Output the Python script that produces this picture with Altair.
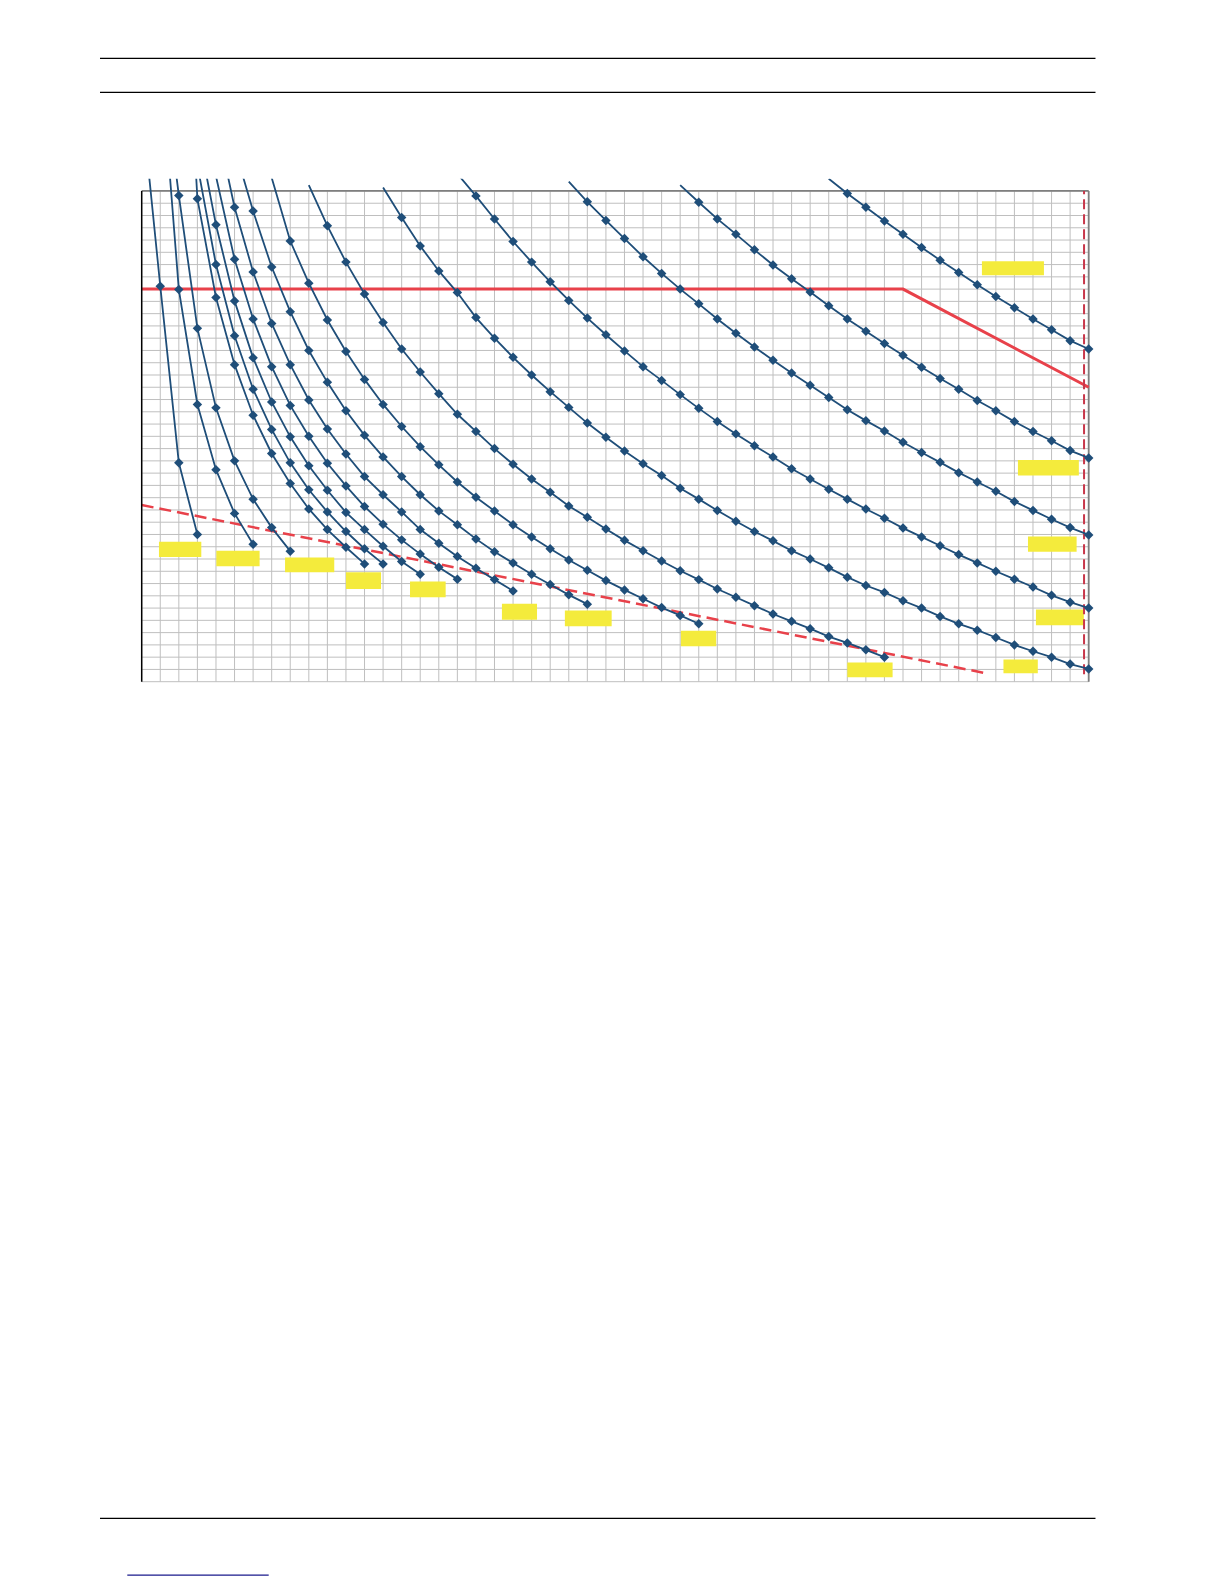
import altair as alt
import pandas as pd

# ---------------- data ----------------
# each curve: first integer x and the y values at consecutive integer x
curve_names = ["A", "B", "C", "D7", "D6", "D5", "D4", "D3", "D2", "D1",
               "G", "H", "I", "J", "K", "L"]
curve_start = [0, 1, 1, 2, 3, 3, 4, 4, 5, 7, 9, 13, 17, 23, 29, 37]

A = [11.8, 8.06, 4.46, 3.00]
B = [12.8, 7.99, 5.65, 4.32, 3.43, 2.80]
C = [12.9, 9.91, 7.20, 5.58, 4.50, 3.72, 3.14, 2.66]
D7 = [16.6, 9.84, 7.83, 6.46, 5.43, 4.65, 4.04, 3.52, 3.10, 2.74, 2.40]
D6 = [10.53, 8.50, 7.05, 5.96, 5.14, 4.46, 3.91, 3.46, 3.06, 2.71, 2.40]
D5 = [11.27, 9.31, 7.76, 6.60, 5.70, 4.99, 4.40, 3.90, 3.45, 3.10, 2.76, 2.45, 2.19]
D4 = [10.30, 8.61, 7.39, 6.42, 5.63, 5.00, 4.45, 3.99, 3.57, 3.21, 2.89, 2.60, 2.33, 2.09]
D3 = [11.43, 9.67, 8.35, 7.30, 6.46, 5.74, 5.15, 4.64, 4.18, 3.81, 3.46, 3.10, 2.82,
      2.55, 2.31, 2.08, 1.85]
D2 = [10.88, 9.59, 8.45, 7.54, 6.75, 6.10, 5.52, 5.02, 4.58, 4.18, 3.81, 3.48, 3.20,
      2.91, 2.65, 2.42, 2.19, 1.98, 1.77, 1.58]
D1 = [10.27, 8.98, 8.12, 7.37, 6.73, 6.16, 5.65, 5.20, 4.79, 4.42, 4.07, 3.76, 3.48,
      3.20, 2.95, 2.71, 2.48, 2.27, 2.06, 1.87, 1.69, 1.51, 1.35, 1.18]
G = [10.12, 9.29, 8.55, 7.90, 7.32, 6.78, 6.31, 5.87, 5.45, 5.10, 4.75, 4.43, 4.13,
     3.86, 3.58, 3.35, 3.11, 2.88, 2.67, 2.46, 2.26, 2.08, 1.89, 1.72, 1.55, 1.38,
     1.23, 1.08, 0.92, 0.79, 0.65, 0.50]
H = [10.07, 9.46, 8.88, 8.37, 7.93, 7.42, 7.00, 6.61, 6.25, 5.91, 5.59, 5.27, 4.98,
     4.70, 4.44, 4.20, 3.94, 3.72, 3.49, 3.27, 3.06, 2.87, 2.67, 2.50, 2.32, 2.13,
     1.96, 1.82, 1.65, 1.50, 1.33, 1.18, 1.05, 0.90, 0.75, 0.62, 0.50, 0.36, 0.26]
I = [10.35, 9.90, 9.43, 8.97, 8.55, 8.15, 7.77, 7.41, 7.07, 6.74, 6.42, 6.14, 5.85,
     5.57, 5.30, 5.05, 4.81, 4.58, 4.34, 4.13, 3.92, 3.72, 3.52, 3.33, 3.13, 2.95,
     2.77, 2.59, 2.42, 2.25, 2.09, 1.93, 1.76, 1.62, 1.50]
J = [10.19, 9.78, 9.40, 9.03, 8.66, 8.32, 8.00, 7.70, 7.39, 7.10, 6.82, 6.55, 6.29,
     6.04, 5.79, 5.54, 5.32, 5.11, 4.88, 4.67, 4.47, 4.26, 4.07, 3.88, 3.67, 3.49,
     3.31, 3.14, 2.99]
K = [10.12, 9.77, 9.43, 9.12, 8.80, 8.49, 8.21, 7.94, 7.66, 7.39, 7.14, 6.89, 6.65,
     6.41, 6.18, 5.96, 5.73, 5.52, 5.30, 5.10, 4.91, 4.71, 4.56]
L = [10.25, 9.95, 9.67, 9.39, 9.12, 8.85, 8.59, 8.34, 8.09, 7.85, 7.62, 7.39, 7.17,
     6.95, 6.78]
curve_values = [A, B, C, D7, D6, D5, D4, D3, D2, D1, G, H, I, J, K, L]

# red limit line (solid) and minimum line (dashed)
limit_x = [0, 41, 51]
limit_y = [8.0, 8.0, 6.0]
min_x = [0, 45.5]
min_y = [3.6, 0.17]
vline_x = [50.75, 50.75]
vline_y = [0.15, 10.0]

# yellow label boxes (empty), in data units
box_x1 = [0.93, 4.02, 7.72, 11.0, 14.45, 19.4, 22.79, 29.04, 38.0, 46.41, 48.16, 47.73, 47.19, 45.25]
box_x2 = [3.21, 6.35, 10.37, 12.89, 16.37, 21.29, 25.31, 30.94, 40.44, 48.26, 50.74, 50.35, 50.47, 48.59]
box_top = [2.85, 2.67, 2.53, 2.23, 2.04, 1.59, 1.45, 1.04, 0.39, 0.45, 1.47, 2.96, 4.52, 8.57]
box_bot = [2.54, 2.35, 2.23, 1.89, 1.72, 1.26, 1.13, 0.72, 0.09, 0.17, 1.15, 2.65, 4.20, 8.28]

x_ticks = list(range(0, 52))
y_major = list(range(0, 11))
y_minor = [i * 0.25 for i in range(0, 41)]

# ---------------- tables ----------------
rows = []
for name, x0, vals in zip(curve_names, curve_start, curve_values):
    for i, v in enumerate(vals):
        rows.append({"curve": name, "x": x0 + i, "y": v})
curves_df = pd.DataFrame(rows)

hgrid_df = pd.DataFrame({"y": y_minor, "x1": 0, "x2": 51})
vgrid_df = pd.DataFrame({"x": x_ticks, "y1": 0, "y2": 10})
limit_df = pd.DataFrame({"x": limit_x, "y": limit_y})
min_df = pd.DataFrame({"x": min_x, "y": min_y})
vline_df = pd.DataFrame({"x": vline_x, "y": vline_y})
box_df = pd.DataFrame({"x1": box_x1, "x2": box_x2, "y1": box_top, "y2": box_bot})
border_top_df = pd.DataFrame({"x1": [0], "x2": [51], "y": [10]})
border_right_df = pd.DataFrame({"x": [51], "y1": [0], "y2": [10]})
left_axis_df = pd.DataFrame({"x": [0], "y1": [0], "y2": [10]})
one = pd.DataFrame({"d": [0]})

xs = alt.Scale(domain=[0, 51], nice=False, zero=False)
ys = alt.Scale(domain=[0, 10.25], nice=False, zero=False)

BLUE = "#1F4E79"
GRID = "#BFBFBF"

hgrid = alt.Chart(hgrid_df).mark_rule(color=GRID, strokeWidth=1).encode(
    x=alt.X("x1:Q", scale=xs, axis=alt.Axis(values=x_ticks, labels=False, ticks=True,
                                            tickSize=5, tickColor="black", tickWidth=1,
                                            domain=True, domainColor="black", domainWidth=1.5,
                                            grid=False, title=None, zindex=1)),
    x2="x2:Q",
    y=alt.Y("y:Q", scale=ys, axis=alt.Axis(values=y_major, labels=False, ticks=True,
                                           tickSize=5, tickColor="black", tickWidth=1,
                                           domain=False, grid=False, title=None, zindex=1)),
)
vgrid = alt.Chart(vgrid_df).mark_rule(color=GRID, strokeWidth=1).encode(
    x=alt.X("x:Q", scale=xs, axis=None),
    y=alt.Y("y1:Q", scale=ys, axis=None),
    y2="y2:Q",
)
border_top = alt.Chart(border_top_df).mark_rule(color="#7F7F7F", strokeWidth=1.8).encode(
    x=alt.X("x1:Q", scale=xs, axis=None), x2="x2:Q",
    y=alt.Y("y:Q", scale=ys, axis=None),
)
border_right = alt.Chart(border_right_df).mark_rule(color="#7F7F7F", strokeWidth=1.8).encode(
    x=alt.X("x:Q", scale=xs, axis=None),
    y=alt.Y("y1:Q", scale=ys, axis=None), y2="y2:Q",
)
left_axis = alt.Chart(left_axis_df).mark_rule(color="black", strokeWidth=1.5).encode(
    x=alt.X("x:Q", scale=xs, axis=None),
    y=alt.Y("y1:Q", scale=ys, axis=None), y2="y2:Q",
)
boxes = alt.Chart(box_df).mark_rect(color="#F4EB3C").encode(
    x=alt.X("x1:Q", scale=xs, axis=None), x2="x2:Q",
    y=alt.Y("y1:Q", scale=ys, axis=None), y2="y2:Q",
)
limit_line = alt.Chart(limit_df).mark_line(color="#E8414A", strokeWidth=3).encode(
    x=alt.X("x:Q", scale=xs, axis=None),
    y=alt.Y("y:Q", scale=ys, axis=None),
)
min_line = alt.Chart(min_df).mark_line(color="#E8414A", strokeWidth=2.5,
                                       strokeDash=[12, 6]).encode(
    x=alt.X("x:Q", scale=xs, axis=None),
    y=alt.Y("y:Q", scale=ys, axis=None),
)
vline = alt.Chart(vline_df).mark_line(color="#C8374A", strokeWidth=2,
                                      strokeDash=[10, 5]).encode(
    x=alt.X("x:Q", scale=xs, axis=None),
    y=alt.Y("y:Q", scale=ys, axis=None),
)
lines = alt.Chart(curves_df).mark_line(color=BLUE, strokeWidth=1.8,
                                       interpolate="linear", clip=True).encode(
    x=alt.X("x:Q", scale=xs, axis=None),
    y=alt.Y("y:Q", scale=ys, axis=None),
    detail="curve:N",
)
points = alt.Chart(curves_df).transform_filter("datum.y <= 10.02").mark_point(
    shape="diamond", filled=True, size=90, color=BLUE, opacity=1).encode(
    x=alt.X("x:Q", scale=xs, axis=None),
    y=alt.Y("y:Q", scale=ys, axis=None),
)

# page rules (header, footer, link underline)
head1 = alt.Chart(one).mark_rule(color="black", strokeWidth=1.2).encode(
    x=alt.value(-41.7), x2=alt.value(953.8), y=alt.value(-120.4))
head2 = alt.Chart(one).mark_rule(color="black", strokeWidth=1.2).encode(
    x=alt.value(-41.7), x2=alt.value(953.8), y=alt.value(-86.4))
foot = alt.Chart(one).mark_rule(color="black", strokeWidth=1.2).encode(
    x=alt.value(-41.7), x2=alt.value(953.8), y=alt.value(1339.6))
link = alt.Chart(one).mark_rule(color="#1A1A8C", strokeWidth=1.2).encode(
    x=alt.value(-14.4), x2=alt.value(127.0), y=alt.value(1396.4))

chart = alt.layer(
    hgrid, vgrid, border_top, border_right, boxes, limit_line, min_line, vline,
    lines, points, left_axis, head1, head2, foot, link,
).properties(
    width=947, height=503,
    autosize=alt.AutoSizeParams(type="none"),
    padding={"left": 133.7, "top": 170.7, "right": 120, "bottom": 894},
).configure_view(stroke=None)

chart.save("out.html", embed_options={"renderer": "svg", "actions": False})
